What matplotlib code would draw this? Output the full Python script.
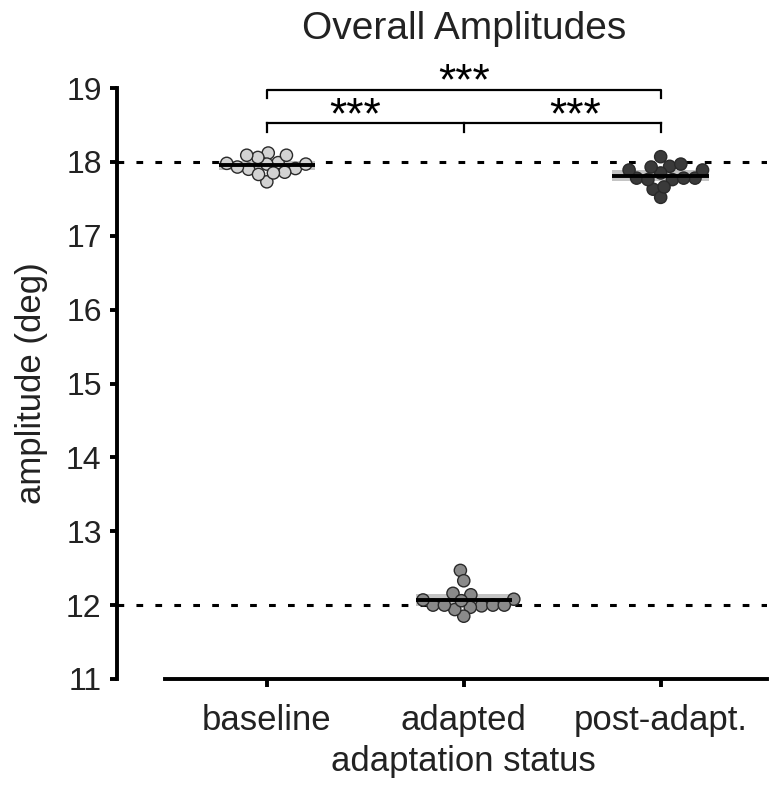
import matplotlib
matplotlib.use("Agg")
import matplotlib.pyplot as plt
import numpy as np
import pandas as pd
import seaborn as sns

categories = ["baseline", "adapted", "post-adapt."]
baseline_vals = [18.12, 17.99, 17.90, 17.91, 17.97, 18.06, 17.86, 17.73, 17.97,
                 18.09, 17.85, 17.93, 18.09, 17.83, 17.98]
adapted_vals = [12.47, 12.33, 12.08, 12.00, 12.14, 12.16, 11.99, 11.97, 12.00,
                11.85, 11.94, 12.06, 12.00, 12.07, 12.00]
post_vals = [18.07, 17.94, 17.97, 17.78, 17.76, 17.78, 17.85, 17.63, 17.52,
             17.89, 17.66, 17.89, 17.76, 17.93, 17.78]
colors = ["#d3d3d3", "#8a8a8a", "#3a3a3a"]
ref_lines = [18, 12]
yticks = [11, 12, 13, 14, 15, 16, 17, 18, 19]
sig_labels = ["***", "***", "***"]

plt.rcParams['font.family'] = ['Liberation Sans', 'DejaVu Sans']

fig = plt.figure(figsize=(7.69, 7.86), dpi=100)
ax = fig.add_axes([117/769, 1 - 679/786, (767 - 117)/769, (679 - 88)/786])

series = [baseline_vals, adapted_vals, post_vals]
df = pd.DataFrame({
    "status": np.repeat(categories, [len(s) for s in series]),
    "amp": np.concatenate(series),
})

XMIN, XMAX = -0.761, 2.54

# mean +/- CI bands
hw = 0.245
for i, vals in enumerate(series):
    v = np.array(vals)
    m = v.mean()
    ci = 1.96 * v.std(ddof=1) / np.sqrt(len(v))
    ax.fill_between([i - hw, i + hw], m - ci, m + ci, color="#c4c4c4", zorder=1, lw=0)

ax.set_xlim(XMIN, XMAX)
ax.set_ylim(11, 19)

# compact swarm layout (points overlap slightly, as in the original)
sns.swarmplot(data=df, x="status", y="amp", hue="status", order=categories,
              hue_order=categories, palette=colors, size=6.8, edgecolor="#2a2a2a",
              linewidth=1.0, legend=False, ax=ax, zorder=3)
ax.set_xlim(XMIN, XMAX)
ax.set_ylim(11, 19)
fig.canvas.draw()
for coll in ax.collections:
    if "draw" in coll.__dict__:
        del coll.__dict__["draw"]
        coll.set_sizes([8.8 ** 2])

for i, vals in enumerate(series):
    m = np.mean(vals)
    ax.plot([i - hw, i + hw], [m, m], color="black", lw=2.8, zorder=4, solid_capstyle="butt")

for r in ref_lines:
    ax.axhline(r, color="black", lw=2.2, ls=(0, (2.2, 4.0)), zorder=0)

ax.set_xlim(XMIN, XMAX)
ax.set_ylim(11, 19)
ax.set_yticks(yticks)
ax.set_xticks(range(len(categories)))
ax.set_xticklabels(categories)

for s in ["top", "right"]:
    ax.spines[s].set_visible(False)
ax.spines["left"].set_linewidth(2.8)
ax.spines["bottom"].set_linewidth(2.8)
ax.spines["left"].set_bounds(11, 19)
ax.spines["bottom"].set_bounds(-0.518, XMAX)
ax.tick_params(axis="y", labelsize=23, width=2.8, length=5, pad=6, colors="black")
ax.tick_params(axis="x", labelsize=25, width=2.8, length=6, pad=12, colors="black")
for lab in ax.get_yticklabels() + ax.get_xticklabels():
    lab.set_color("#222222")

center_frac = (1.0 - XMIN) / (XMAX - XMIN)
ax.set_xlabel("adaptation status", fontsize=25, color="#222222")
ax.xaxis.set_label_coords(center_frac, -0.112)
ax.set_ylabel("amplitude (deg)", fontsize=25, color="#222222", labelpad=13)
ax.set_title("Overall Amplitudes", fontsize=28, color="#222222", pad=35)
ax.title.set_x(center_frac)

# significance brackets
lw_b = 1.6
y_low, y_low_tip = 18.53, 18.41
ax.plot([0, 2], [y_low, y_low], color="black", lw=lw_b, clip_on=False, zorder=5)
for xi in [0, 1, 2]:
    ax.plot([xi, xi], [y_low, y_low_tip], color="black", lw=lw_b, clip_on=False, zorder=5)
y_up, y_up_tip = 18.97, 18.86
ax.plot([0, 0, 2, 2], [y_up_tip, y_up, y_up, y_up_tip], color="black", lw=lw_b,
        clip_on=False, zorder=5)
ax.text(0.447, 18.45, sig_labels[0], ha="center", va="baseline", fontsize=32, clip_on=False)
ax.text(1.568, 18.45, sig_labels[1], ha="center", va="baseline", fontsize=32, clip_on=False)
ax.text(1.0, 18.91, sig_labels[2], ha="center", va="baseline", fontsize=32, clip_on=False)

fig.savefig("out.png", dpi=100)
